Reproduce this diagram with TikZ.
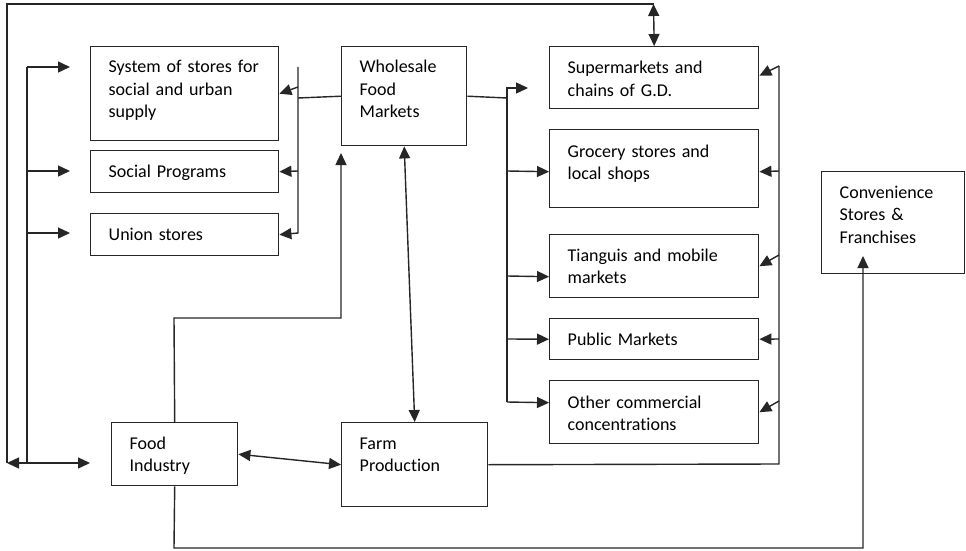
\documentclass[tikz,border=0pt]{standalone}
\usepackage{fontspec}
\setmainfont{Carlito}[Ligatures={NoCommon}]
\usetikzlibrary{arrows.meta}
\begin{document}
\begin{tikzpicture}[x=1pt,y=-1pt,
  line width=1.4pt, draw=black!85,
  box/.style={draw=black!85, rectangle, inner sep=0pt, anchor=north west},
  txt/.style={inner sep=0pt, anchor=base west, align=left, text width=175pt,
    font=\fontsize{18}{22.5}\selectfont},
  tip/.style={-{Triangle[length=12pt,width=11pt]}},
  dbl/.style={{Triangle[length=12pt,width=11pt]}-{Triangle[length=12pt,width=11pt]}}]
\useasboundingbox (0,0) rectangle (966,551);
% boxes
\node[box, minimum width=188pt, minimum height=94pt] (sys) at (90,46) {};
\node[txt] (syst) at (108,73) {System of stores for\\social and urban\\supply};
\node[box, minimum width=188pt, minimum height=42pt] (soc) at (90,150) {};
\node[txt] (soct) at (108,177) {Social Programs};
\node[box, minimum width=188pt, minimum height=42pt] (uni) at (90,213) {};
\node[txt] (unit) at (108,240) {Union stores};
\node[box, minimum width=125pt, minimum height=99pt] (whl) at (341,46) {};
\node[txt] (whlt) at (359,73) {Wholesale\\Food\\Markets};
\node[box, minimum width=209pt, minimum height=62pt] (sup) at (549,46) {};
\node[txt] (supt) at (567,74) {Supermarkets and\\chains of G.D.};
\node[box, minimum width=209pt, minimum height=78pt] (gro) at (549,129) {};
\node[txt] (grot) at (567,157) {Grocery stores and\\local shops};
\node[box, minimum width=209pt, minimum height=63pt] (tia) at (549,234) {};
\node[txt] (tiat) at (567,261) {Tianguis and mobile\\markets};
\node[box, minimum width=209pt, minimum height=41pt] (pub) at (549,318) {};
\node[txt] (pubt) at (567,345) {Public Markets};
\node[box, minimum width=209pt, minimum height=63pt] (oth) at (549,380) {};
\node[txt] (otht) at (567,408) {Other commercial\\concentrations};
\node[box, minimum width=143pt, minimum height=102pt] (con) at (821,171) {};
\node[txt] (cont) at (839,198) {Convenience\\Stores \&\\Franchises};
\node[box, minimum width=126pt, minimum height=63pt] (fi) at (111,422) {};
\node[txt] (fit) at (129,449) {Food\\Industry};
\node[box, minimum width=146pt, minimum height=84pt] (fp) at (341,422) {};
\node[txt] (fpt) at (359,449) {Farm\\Production};
% coordinates
\coordinate (tr) at (653.5,4);
\coordinate (tl) at (7,4);
\coordinate (bl) at (7,463);
\coordinate (lbus) at (27,463);
\coordinate (lbusT) at (27,67);
\coordinate (lbx) at (90,463);
\coordinate (wb1) at (298,67);
\coordinate (wb2) at (298,233);
\coordinate (wbj) at (298,98);
\coordinate (rb1) at (507,88);
\coordinate (rb2) at (507,402);
\coordinate (rbj) at (507,98);
\coordinate (sb1) at (779,66);
\coordinate (sb2) at (779,464);
\coordinate (fiu) at (174,318);
\coordinate (fiw) at (341,318);
\coordinate (fib) at (174,548);
\coordinate (fic) at (863,548);
% outer loop
\draw[dbl] (sup.north) -- (tr);
\draw (tr) -- (tl) -- (bl);
\draw[dbl] (bl) -- (lbx);
\draw (lbus) -- (lbusT);
\draw[tip] (lbusT) -- (70,67);
\draw[tip] (27,171) -- (70,171);
\draw[tip] (27,233) -- (70,233);
% wholesale left bus
\draw (whl.west) -- (wbj);
\draw[tip] (wb1) -- (wb2) -- (uni.east);
\draw[tip] (298,87) -- (sys.east);
\draw[tip] (298,171) -- (soc.east);
% wholesale right bus
\draw (whl.east) -- (rbj);
\draw[tip] (rb2) -- (rb1) -- (528,88);
\draw[tip] (507,171) -- ([yshift=-3pt]gro.west);
\draw[tip] (507,276) -- ([yshift=-10.5pt]tia.west);
\draw[tip] (507,339) -- (pub.west);
\draw[tip] (507,402) -- ([yshift=9.5pt]oth.west);
% farm production to retail bus
\draw (fp.east) -- (sb2) -- (sb1);
\draw[tip] (sb1) -- ([yshift=2pt]sup.east);
\draw[tip] (779,171) -- ([yshift=-3pt]gro.east);
\draw[tip] (779,255) -- (tia.east);
\draw[tip] (779,339) -- (pub.east);
\draw[tip] (779,401) -- (oth.east);
% food industry
\draw[tip] (fi.north) -- (fiu) -- (fiw) -- (341,153);
\draw[dbl] (whl.south) -- (fp.north);
\draw[dbl] (fi.east) -- (fp.west);
\draw[tip] (fi.south) -- (fib) -- (fic) -- (863,256);
\end{tikzpicture}
\end{document}
